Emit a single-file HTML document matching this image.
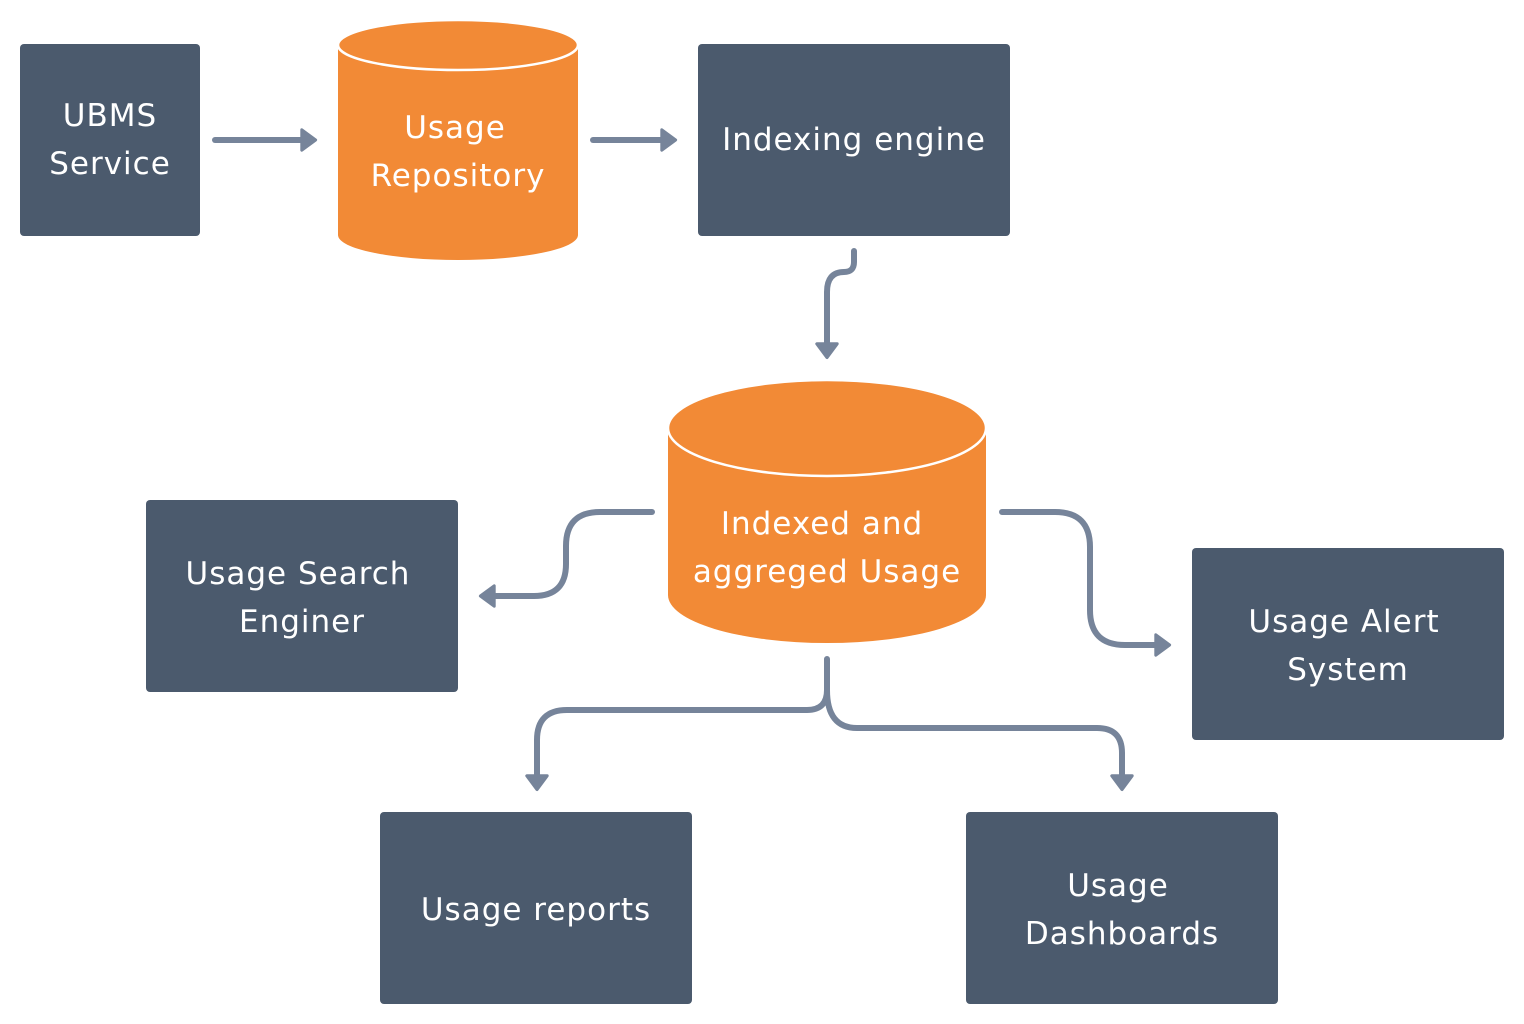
<!DOCTYPE html>
<html><head><meta charset="utf-8"><style>
html,body{margin:0;padding:0;background:#fff;}
svg{display:block}
text{font-family:"DejaVu Sans","Liberation Sans",sans-serif;fill:#fff;font-size:31px;text-anchor:middle;letter-spacing:1px}
</style></head><body>
<svg width="1524" height="1024" viewBox="0 0 1524 1024" xmlns="http://www.w3.org/2000/svg">
<defs>
<marker id="a" markerWidth="4" markerHeight="4" refX="2" refY="2" orient="auto" markerUnits="strokeWidth">
<path d="M0.3,0.3 L2.6,2 L0.3,3.7 Z" fill="#76849a" stroke="#76849a" stroke-width="0.5" stroke-linejoin="round"/>
</marker>
</defs>
<g fill="#4b5a6d">
<rect x="20" y="44" width="180" height="192" rx="4"/>
<rect x="698" y="44" width="312" height="192" rx="4"/>
<rect x="146" y="500" width="312" height="192" rx="4"/>
<rect x="1192" y="548" width="312" height="192" rx="4"/>
<rect x="380" y="812" width="312" height="192" rx="4"/>
<rect x="966" y="812" width="312" height="192" rx="4"/>
</g>
<!-- cylinders -->
<path d="M338,45 L338,235 A120,25 0 0 0 578,235 L578,45 Z" fill="#f28a36"/>
<ellipse cx="458" cy="45" rx="120" ry="25" fill="#f28a36" stroke="#fff" stroke-width="2.5"/>
<path d="M668,428 L668,595 A159,48 0 0 0 986,595 L986,428 Z" fill="#f28a36"/>
<ellipse cx="827" cy="428" rx="159" ry="48" fill="#f28a36" stroke="#fff" stroke-width="2.5"/>
<!-- arrows -->
<g fill="none" stroke="#76849a" stroke-width="6" stroke-linecap="round" stroke-linejoin="round">
<path d="M215,140 L312,140" marker-end="url(#a)"/>
<path d="M593,140 L672,140" marker-end="url(#a)"/>
<path d="M854,251 L854,262 Q854,272 844,272 Q827,272 827,292 L827,354" marker-end="url(#a)"/>
<path d="M652,512 L600,512 Q566,512 566,546 L566,564 Q566,596 534,596 L484,596" marker-end="url(#a)"/>
<path d="M1002,512 L1055,512 Q1090,512 1090,547 L1090,610 Q1090,645 1125,645 L1166,645" marker-end="url(#a)"/>
<path d="M827,659 L827,690 Q827,710 807,710 L567,710 Q537,710 537,740 L537,786" marker-end="url(#a)"/>
<path d="M827,690 Q827,728 857,728 L1097,728 Q1122,728 1122,753 L1122,786" marker-end="url(#a)"/>
</g>
<text x="110" y="126">UBMS</text>
<text x="110" y="174">Service</text>
<text x="455" y="138">Usage</text>
<text x="458" y="186">Repository</text>
<text x="854" y="150">Indexing engine</text>
<text x="822" y="534">Indexed and</text>
<text x="827" y="582">aggreged Usage</text>
<text x="298" y="584">Usage Search</text>
<text x="302" y="632">Enginer</text>
<text x="1344" y="632">Usage Alert</text>
<text x="1348" y="680">System</text>
<text x="536" y="920">Usage reports</text>
<text x="1118" y="896">Usage</text>
<text x="1122" y="944">Dashboards</text>
</svg>
</body></html>
